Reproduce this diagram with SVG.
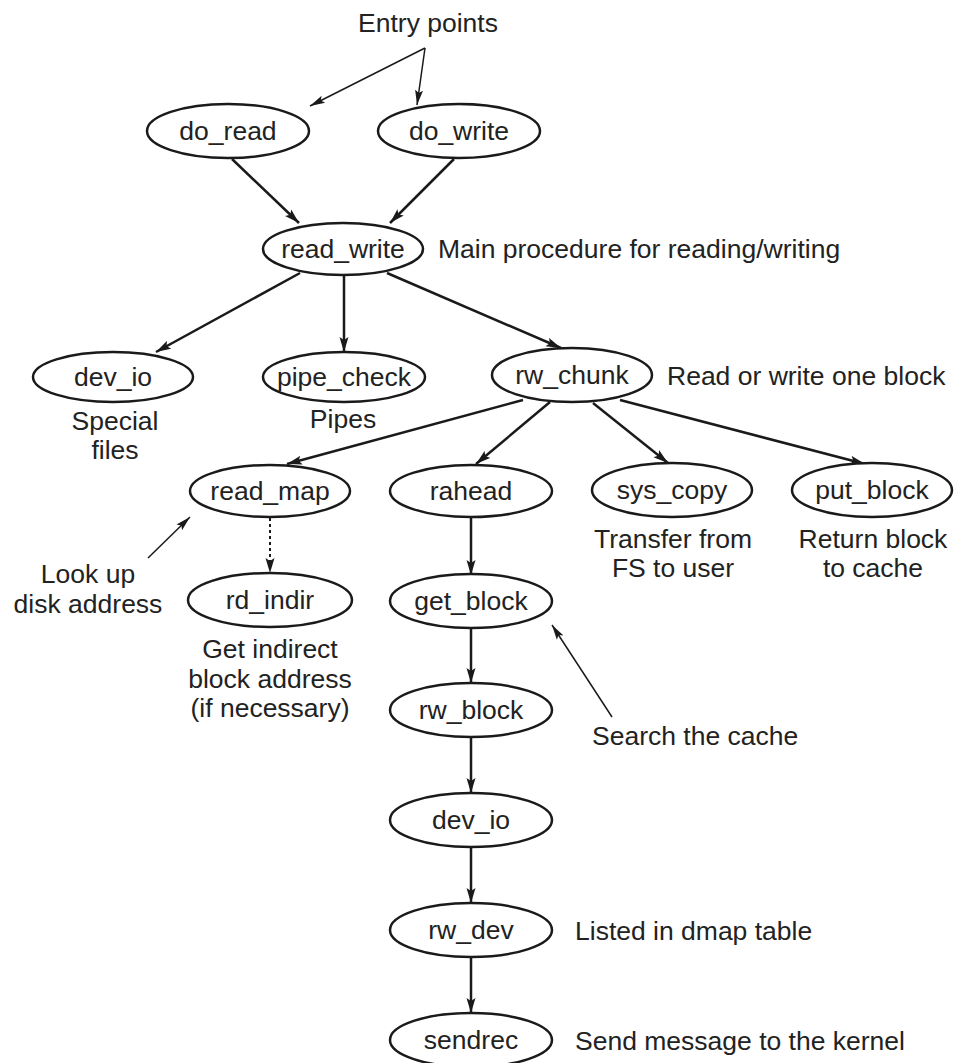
<svg xmlns="http://www.w3.org/2000/svg" width="955" height="1063" viewBox="0 0 955 1063">
<style>
  .node ellipse { fill: #fff; stroke: #1a1a1a; stroke-width: 2.5; }
  text { font-family: "Liberation Sans", Arial, Helvetica, sans-serif; font-size: 26.5px; fill: #222; }
  .c { text-anchor: middle; }
  .edge { stroke: #1a1a1a; stroke-width: 2.5; fill: none; marker-end: url(#ah); }
  .dot { stroke: #1a1a1a; stroke-width: 2; stroke-dasharray: 3 3; fill: none; marker-end: url(#ah); }
  .note { stroke: #1a1a1a; stroke-width: 1.5; fill: none; marker-end: url(#ahs); }
</style>
<defs>
  <marker id="ah" markerUnits="userSpaceOnUse" markerWidth="16" markerHeight="10" refX="15" refY="5" orient="auto" viewBox="0 0 16 10">
    <path d="M0,0.5 L15,5 L0,9.5 L3,5 z" fill="#1a1a1a"/>
  </marker>
  <marker id="ahs" markerUnits="userSpaceOnUse" markerWidth="16" markerHeight="10" refX="15" refY="5" orient="auto" viewBox="0 0 16 10">
    <path d="M0,1 L15,5 L0,9 L3,5 z" fill="#1a1a1a"/>
  </marker>
</defs>
<rect width="955" height="1063" fill="#fff"/>

<g id="connectors">
  <line class="note" x1="425" y1="48" x2="310" y2="106"/>
  <line class="note" x1="425" y1="48" x2="417" y2="105"/>
  <line class="edge" x1="232" y1="159" x2="299" y2="223"/>
  <line class="edge" x1="454" y1="159" x2="390" y2="223"/>
  <line class="edge" x1="300" y1="273" x2="156" y2="352"/>
  <line class="edge" x1="344" y1="275" x2="344" y2="352"/>
  <line class="edge" x1="387" y1="273" x2="561" y2="348"/>
  <line class="edge" x1="523" y1="400" x2="287" y2="464"/>
  <line class="edge" x1="550" y1="402" x2="476" y2="464"/>
  <line class="edge" x1="593" y1="403" x2="668" y2="463"/>
  <line class="edge" x1="620" y1="400" x2="865" y2="464"/>
  <line class="dot" x1="270" y1="518" x2="270" y2="573"/>
  <line class="note" x1="148" y1="558" x2="190" y2="517"/>
  <line class="edge" x1="471" y1="517" x2="471" y2="575"/>
  <line class="edge" x1="471" y1="628" x2="471" y2="683"/>
  <line class="note" x1="612" y1="717" x2="552" y2="625"/>
  <line class="edge" x1="471" y1="737" x2="471" y2="793"/>
  <line class="edge" x1="471" y1="847" x2="471" y2="903"/>
  <line class="edge" x1="471" y1="957" x2="471" y2="1013"/>
</g>

<g id="do_read" class="node"><ellipse cx="228" cy="131" rx="81" ry="27"/><text class="c" x="228" y="140">do_read</text></g>
<g id="do_write" class="node"><ellipse cx="459" cy="131" rx="81" ry="27"/><text class="c" x="459" y="140">do_write</text></g>
<g id="read_write" class="node"><ellipse cx="343" cy="249" rx="80" ry="26"/><text class="c" x="343" y="258">read_write</text></g>
<g id="dev_io_1" class="node"><ellipse cx="113" cy="377" rx="80" ry="25"/><text class="c" x="113" y="386">dev_io</text></g>
<g id="pipe_check" class="node"><ellipse cx="344" cy="377" rx="81" ry="25"/><text class="c" x="344" y="386">pipe_check</text></g>
<g id="rw_chunk" class="node"><ellipse cx="572" cy="375" rx="80" ry="27"/><text class="c" x="572" y="384">rw_chunk</text></g>
<g id="read_map" class="node"><ellipse cx="270" cy="491" rx="80" ry="26"/><text class="c" x="270" y="500">read_map</text></g>
<g id="rahead" class="node"><ellipse cx="471" cy="491" rx="81" ry="26"/><text class="c" x="471" y="500">rahead</text></g>
<g id="sys_copy" class="node"><ellipse cx="672" cy="490" rx="80" ry="27"/><text class="c" x="672" y="499">sys_copy</text></g>
<g id="put_block" class="node"><ellipse cx="872" cy="490" rx="80" ry="27"/><text class="c" x="872" y="499">put_block</text></g>
<g id="rd_indir" class="node"><ellipse cx="270" cy="600" rx="82" ry="27"/><text class="c" x="270" y="609">rd_indir</text></g>
<g id="get_block" class="node"><ellipse cx="471" cy="601" rx="81" ry="27"/><text class="c" x="471" y="610">get_block</text></g>
<g id="rw_block" class="node"><ellipse cx="471" cy="710" rx="81" ry="27"/><text class="c" x="471" y="719">rw_block</text></g>
<g id="dev_io_2" class="node"><ellipse cx="471" cy="820" rx="81" ry="27"/><text class="c" x="471" y="829">dev_io</text></g>
<g id="rw_dev" class="node"><ellipse cx="471" cy="930" rx="81" ry="27"/><text class="c" x="471" y="939">rw_dev</text></g>
<g id="sendrec" class="node"><ellipse cx="471" cy="1040" rx="81" ry="27"/><text class="c" x="471" y="1049">sendrec</text></g>

<g id="labels">
  <text class="c" x="428" y="32">Entry points</text>
  <text x="438" y="258">Main procedure for reading/writing</text>
  <text class="c" x="115" y="430">Special</text>
  <text class="c" x="115" y="459">files</text>
  <text class="c" x="343" y="428">Pipes</text>
  <text x="667" y="385">Read or write one block</text>
  <text class="c" x="88" y="583">Look up</text>
  <text class="c" x="88" y="613">disk address</text>
  <text class="c" x="270" y="658">Get indirect</text>
  <text class="c" x="270" y="688">block address</text>
  <text class="c" x="270" y="717">(if necessary)</text>
  <text class="c" x="673" y="548">Transfer from</text>
  <text class="c" x="673" y="577">FS to user</text>
  <text class="c" x="873" y="548">Return block</text>
  <text class="c" x="873" y="577">to cache</text>
  <text x="592" y="745">Search the cache</text>
  <text x="575" y="940">Listed in dmap table</text>
  <text x="575" y="1050">Send message to the kernel</text>
</g>
</svg>
